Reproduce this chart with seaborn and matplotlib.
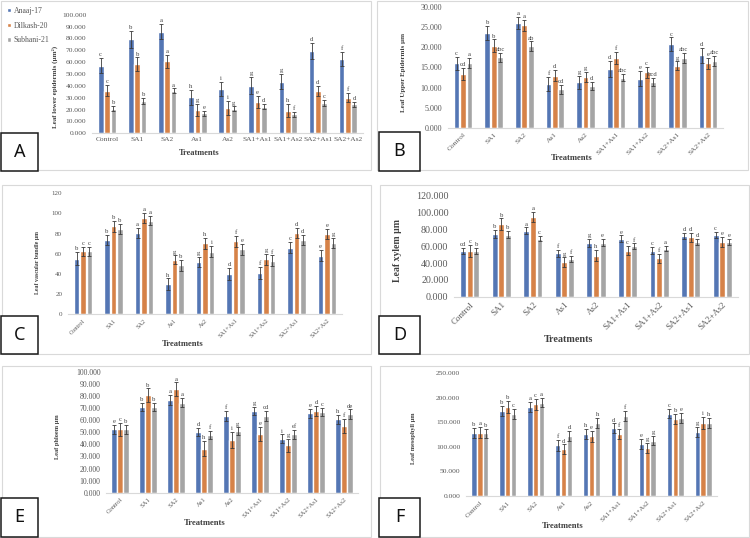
import matplotlib
matplotlib.use("Agg")
import matplotlib.pyplot as plt
import seaborn as sns
import pandas as pd
from matplotlib.patches import Rectangle
from matplotlib.ticker import FormatStrFormatter, MultipleLocator

# Categories shared by all six panels
treatments = ["Control", "SA1", "SA2", "As1", "As2", "SA1+As1", "SA1+As2", "SA2+As1", "SA2+As2"]
varieties = ["Anaaj-17", "Dilkash-20", "Subhani-21"]
colors = ["#4472C4", "#ED7D31", "#A5A5A5"]

# A: leaf lower epidermis
lower_anaaj = [57.0, 79.2, 85.6, 30.2, 37.5, 40.2, 43.5, 69.6, 62.4]
lower_dilkash = [35.9, 58.4, 60.6, 19.6, 21.5, 26.4, 19.0, 35.6, 30.0]
lower_subhani = [20.6, 27.5, 35.8, 16.9, 20.6, 22.5, 16.1, 25.7, 24.6]
lower_err_anaaj = [6.5, 7.0, 6.5, 6.7, 6.0, 7.0, 6.5, 6.7, 6.0]
lower_err_dilkash = [4.8, 5.6, 5.3, 5.0, 6.0, 5.0, 5.6, 4.5, 4.0]
lower_err_subhani = [2.2, 2.4, 2.0, 2.0, 2.0, 2.0, 2.2, 2.4, 2.2]
lower_let_anaaj = ["c", "b", "a", "h", "i", "g", "g", "d", "f"]
lower_let_dilkash = ["c", "b", "a", "g", "i", "e", "h", "d", "f"]
lower_let_subhani = ["b", "b", "a", "e", "g", "d", "f", "c", "d"]

# B: leaf upper epidermis
upper_anaaj = [16.0, 23.6, 26.2, 10.9, 11.3, 14.6, 12.2, 20.8, 18.0]
upper_dilkash = [13.4, 20.4, 25.5, 13.0, 12.6, 17.3, 13.8, 15.4, 16.0]
upper_subhani = [16.1, 17.5, 20.3, 9.6, 10.4, 12.5, 11.4, 17.4, 16.6]
upper_err_anaaj = [1.6, 1.8, 1.5, 1.7, 1.6, 2.0, 1.9, 1.7, 1.8]
upper_err_dilkash = [1.4, 1.6, 1.3, 1.4, 1.2, 1.5, 1.4, 1.1, 1.3]
upper_err_subhani = [1.2, 1.2, 1.2, 1.1, 1.1, 0.9, 1.1, 1.3, 1.2]
upper_let_anaaj = ["c", "b", "a", "f", "g", "d", "e", "c", "d"]
upper_let_dilkash = ["cd", "b", "a", "d", "g", "f", "c", "g", "e"]
upper_let_subhani = ["a", "abc", "ab", "cd", "d", "abc", "bcd", "abc", "abc"]

# C: leaf vascular bundle
vasc_anaaj = [55.0, 73.6, 80.2, 29.8, 51.4, 40.1, 40.4, 66.0, 58.0]
vasc_dilkash = [62.3, 87.2, 95.5, 54.0, 70.3, 72.3, 54.4, 80.5, 79.5]
vasc_subhani = [62.3, 84.5, 92.8, 48.4, 62.0, 64.3, 53.0, 73.6, 70.3]
vasc_err_anaaj = [6.5, 5.0, 5.0, 5.6, 5.0, 6.0, 6.0, 5.3, 5.6]
vasc_err_dilkash = [4.6, 5.3, 4.6, 4.3, 5.6, 5.3, 5.3, 5.3, 5.3]
vasc_err_subhani = [4.6, 5.0, 4.6, 5.3, 5.6, 5.3, 5.3, 5.0, 5.0]
vasc_let_anaaj = ["b", "b", "a", "h", "g", "d", "f", "c", "e"]
vasc_let_dilkash = ["c", "b", "a", "g", "h", "f", "g", "d", "e"]
vasc_let_subhani = ["c", "b", "a", "b", "i", "e", "f", "d", "g"]

# D: leaf xylem
xylem_anaaj = [54.3, 74.5, 78.4, 51.5, 63.8, 68.9, 54.7, 71.7, 72.9]
xylem_dilkash = [54.3, 86.3, 94.3, 41.2, 48.7, 54.7, 45.5, 70.5, 65.3]
xylem_subhani = [54.3, 73.7, 68.9, 44.8, 64.2, 60.2, 57.0, 65.0, 65.0]
xylem_err_anaaj = [4.0, 4.8, 4.0, 4.0, 4.8, 4.0, 4.0, 3.6, 3.6]
xylem_err_dilkash = [7.0, 6.7, 6.0, 5.5, 6.7, 5.5, 5.5, 5.5, 6.0]
xylem_err_subhani = [4.0, 4.4, 3.2, 3.6, 4.0, 3.2, 3.2, 3.2, 3.6]
xylem_let_anaaj = ["cd", "b", "a", "f", "g", "e", "c", "d", "c"]
xylem_let_dilkash = ["c", "b", "a", "g", "h", "c", "f", "d", "e"]
xylem_let_subhani = ["b", "b", "c", "f", "e", "f", "a", "d", "e"]

# E: leaf phloem
phloem_anaaj = [52.3, 70.8, 76.6, 50.4, 63.6, 67.5, 44.6, 65.6, 60.6]
phloem_dilkash = [52.3, 80.7, 85.4, 36.4, 43.5, 48.8, 39.1, 67.5, 55.4]
phloem_subhani = [52.3, 70.8, 74.4, 47.7, 50.7, 63.6, 48.2, 66.7, 64.7]
phloem_err_anaaj = [3.6, 3.6, 4.1, 3.3, 4.1, 3.6, 3.6, 3.6, 3.9]
phloem_err_dilkash = [5.5, 5.5, 5.8, 6.3, 6.9, 5.8, 5.5, 4.1, 5.8]
phloem_err_subhani = [3.6, 3.6, 3.6, 3.6, 3.3, 4.1, 3.6, 3.6, 4.1]
phloem_let_anaaj = ["e", "b", "a", "d", "f", "g", "i", "e", "h"]
phloem_let_dilkash = ["c", "b", "a", "h", "i", "e", "g", "d", "f"]
phloem_let_subhani = ["b", "b", "a", "f", "g", "cd", "ef", "c", "de"]

# F: leaf mesophyll
meso_anaaj = [129, 174, 182, 103, 126, 138, 106, 168, 131]
meso_dilkash = [129, 181, 187, 95, 122, 126, 98, 157, 149]
meso_subhani = [128, 167, 190, 122, 149, 163, 113, 159, 149]
meso_err_anaaj = [10, 10, 10, 11, 10, 10, 10, 10, 10]
meso_err_dilkash = [11, 12, 11, 10, 11, 10, 11, 11, 12]
meso_err_subhani = [9.5, 10, 9, 10, 10, 10, 9.5, 9.5, 10]
meso_let_anaaj = ["b", "b", "a", "f", "h", "d", "e", "c", "g"]
meso_let_dilkash = ["a", "b", "c", "d", "e", "f", "g", "b", "i"]
meso_let_subhani = ["b", "c", "a", "d", "h", "f", "g", "e", "h"]

W, H = 750, 538
sns.set_style("white")
plt.rcParams["font.family"] = ["Liberation Serif", "DejaVu Serif"]
fig = plt.figure(figsize=(W / 100, H / 100), dpi=100)


def px_axes(x0, x1, ytop, ybot):
    return fig.add_axes([x0 / W, 1 - ybot / H, (x1 - x0) / W, (ybot - ytop) / H])


def panel(box, means, errs, lets, ymax, step, fmt, ylabel, ysize, xsize, rot,
          xlab_px, ylab_px, lab_size, ylab_size, legend=False):
    x0, x1, ytop, ybot = box
    ax = px_axes(x0, x1, ytop, ybot)
    df = pd.DataFrame({
        "Treatment": treatments * 3,
        "Variety": [v for v in varieties for _ in treatments],
        "value": means[0] + means[1] + means[2],
    })
    sns.barplot(data=df, x="Treatment", y="value", hue="Variety", order=treatments,
                hue_order=varieties, palette=colors, width=0.63, gap=0.1,
                errorbar=None, legend=legend, ax=ax)
    for cont, err, let in zip(ax.containers, errs, lets):
        xs = [b.get_x() + b.get_width() / 2 for b in cont]
        hs = [b.get_height() for b in cont]
        ax.errorbar(xs, hs, yerr=err, fmt="none", ecolor="#3a3a3a", elinewidth=0.6,
                    capsize=1.4, capthick=0.6)
        for x, h, e, l in zip(xs, hs, err, let):
            ax.annotate(l, (x, h + e), xytext=(0, 0.6), textcoords="offset points",
                        ha="center", va="bottom", fontsize=4.8, color="#404040")
    ax.set_xlim(-0.5, 8.5)
    ax.set_ylim(0, ymax)
    ax.yaxis.set_major_locator(MultipleLocator(step))
    ax.yaxis.set_major_formatter(FormatStrFormatter(fmt))
    for s in ["top", "right", "left"]:
        ax.spines[s].set_visible(False)
    ax.spines["bottom"].set_color("#d9d9d9")
    ax.spines["bottom"].set_linewidth(0.8)
    ax.tick_params(axis="both", length=0, colors="#595959")
    ax.tick_params(axis="y", labelsize=ysize, pad=4)
    if rot:
        ax.set_xticks(range(9), treatments, rotation=45, ha="right",
                      rotation_mode="anchor", fontsize=xsize)
        ax.tick_params(axis="x", pad=3)
    else:
        ax.set_xticks(range(9), treatments, fontsize=xsize)
        ax.tick_params(axis="x", pad=3)
    ax.set_xlabel("Treatments", fontsize=lab_size, fontweight="bold", color="#404040")
    ax.set_ylabel(ylabel, fontsize=ylab_size, fontweight="bold", color="#404040")
    ax.xaxis.set_label_coords((xlab_px[0] - x0) / (x1 - x0), (ybot - xlab_px[1]) / (ybot - ytop))
    ax.xaxis.label.set_va("center")
    ax.yaxis.set_label_coords((ylab_px[0] - x0) / (x1 - x0), (ybot - ylab_px[1]) / (ybot - ytop))
    ax.yaxis.label.set_va("center")
    return ax


axA = panel((92, 363, 14.7, 133.3),
            [lower_anaaj, lower_dilkash, lower_subhani],
            [lower_err_anaaj, lower_err_dilkash, lower_err_subhani],
            [lower_let_anaaj, lower_let_dilkash, lower_let_subhani],
            100, 10, "%.3f", "Leaf lower epidermis (µm²)", 5.4, 5.4, False,
            (199, 153), (55, 87), 6, 5, legend=True)
sns.move_legend(axA, "upper left", bbox_to_anchor=(7 / W, 1 - 7 / H),
                bbox_transform=fig.transFigure, frameon=False, title=None,
                fontsize=5.6, handlelength=0.5, handleheight=0.5, handletextpad=0.35,
                labelspacing=0.85, borderpad=0, borderaxespad=0)
for t in axA.get_legend().get_texts():
    t.set_color("#595959")

panel((447.7, 723.3, 7.3, 127.7),
      [upper_anaaj, upper_dilkash, upper_subhani],
      [upper_err_anaaj, upper_err_dilkash, upper_err_subhani],
      [upper_let_anaaj, upper_let_dilkash, upper_let_subhani],
      30, 5, "%.3f", "Leaf Upper Epidermis µm", 5.8, 5.4, True,
      (572, 158), (403, 72), 6.2, 5)

panel((67.75, 342.25, 193.3, 314),
      [vasc_anaaj, vasc_dilkash, vasc_subhani],
      [vasc_err_anaaj, vasc_err_dilkash, vasc_err_subhani],
      [vasc_let_anaaj, vasc_let_dilkash, vasc_let_subhani],
      120, 20, "%d", "Leaf vascular bundle µm", 5, 4.5, True,
      (183, 344), (38, 263), 6.2, 4.2)

panel((454, 738, 195.7, 296.7),
      [xylem_anaaj, xylem_dilkash, xylem_subhani],
      [xylem_err_anaaj, xylem_err_dilkash, xylem_err_subhani],
      [xylem_let_anaaj, xylem_let_dilkash, xylem_let_subhani],
      120, 20, "%.3f", "Leaf xylem µm", 7.2, 6.5, True,
      (568, 339), (398, 251), 7.3, 7)

panel((106, 358, 371.7, 492.7),
      [phloem_anaaj, phloem_dilkash, phloem_subhani],
      [phloem_err_anaaj, phloem_err_dilkash, phloem_err_subhani],
      [phloem_let_anaaj, phloem_let_dilkash, phloem_let_subhani],
      100, 10, "%.3f", "Leaf phloem µm", 5.6, 4.8, True,
      (205, 523), (58, 437), 6.2, 4.6)

panel((466, 717, 373.3, 496),
      [meso_anaaj, meso_dilkash, meso_subhani],
      [meso_err_anaaj, meso_err_dilkash, meso_err_subhani],
      [meso_let_anaaj, meso_let_dilkash, meso_let_subhani],
      250, 50, "%.3f", "Leaf mesophyll µm", 5.4, 5, True,
      (563, 526), (414, 438), 6.2, 4.5)

# light grey panel frames
frames = [(0.5, 1, 371, 170), (377, 1, 748, 170), (2, 185, 371, 354),
          (380, 185, 749, 354), (2, 366, 371, 537), (380, 366, 749, 537)]
for fx0, fy0, fx1, fy1 in frames:
    fig.add_artist(Rectangle((fx0 / W, 1 - fy1 / H), (fx1 - fx0) / W, (fy1 - fy0) / H,
                             transform=fig.transFigure, fill=False, ec="#d9d9d9", lw=0.8))

# panel letter boxes
boxes = [("A", 1, 133, 38, 171), ("B", 379, 132, 420, 171), ("C", 1, 316, 38, 354),
         ("D", 379, 316, 420, 354), ("E", 1, 498, 38, 537), ("F", 379, 498, 420, 537)]
for letter, bx0, by0, bx1, by1 in boxes:
    fig.add_artist(Rectangle((bx0 / W, 1 - by1 / H), (bx1 - bx0) / W, (by1 - by0) / H,
                             transform=fig.transFigure, fc="white", ec="#1a1a1a", lw=1.1,
                             zorder=5))
    fig.text((bx0 + bx1) / 2 / W, 1 - (by0 + by1) / 2 / H, letter, ha="center", va="center",
             fontsize=13, family="Noto Sans", color="#111111", zorder=6)

fig.savefig("out.png", dpi=100)
